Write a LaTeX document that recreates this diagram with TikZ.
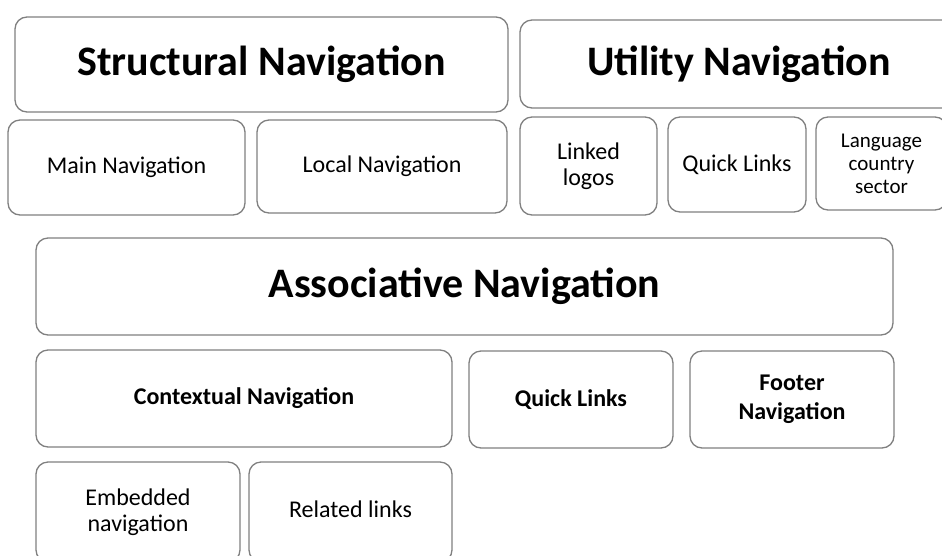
\documentclass[tikz,border=0pt]{standalone}
\usepackage{fontspec}
\setmainfont{Carlito}
\definecolor{edge}{RGB}{128,128,128}
\begin{document}
\begin{tikzpicture}[x=1pt,y=-1pt,
  box/.style={draw=edge, line width=1.3pt, rounded corners=12pt, fill=white,
    align=center, inner sep=0pt, text=black},
  big/.style={font=\fontsize{42}{46}\selectfont\bfseries},
  mid/.style={font=\fontsize{24}{26}\selectfont},
  midb/.style={font=\fontsize{24}{29}\selectfont\bfseries},
  small/.style={font=\fontsize{21}{23}\selectfont}]
\useasboundingbox (0,0) rectangle (942,555);
\clip (0,0) rectangle (942,555);
% Structural / Utility
\node[box,big, minimum width=493pt, minimum height=95pt] (sn) at (261.5,64.5) {Structural Navigation};
\node[box,big, minimum width=438pt, minimum height=88pt] (un) at (739,64) {Utility Navigation};
\node[box,mid, minimum width=237pt, minimum height=95pt] (mn) at (126.5,167.5) {Main Navigation};
\node[box,mid, minimum width=250pt, minimum height=93pt] (ln) at (382,166.5) {Local Navigation};
\node[box,mid, minimum width=137pt, minimum height=98pt] (ll) at (588.5,166) {Linked\\logos};
\node[box,mid, minimum width=138pt, minimum height=95pt] (ql1) at (737,164.5) {Quick Links};
\node[box,small, minimum width=131pt, minimum height=93pt] (lcs) at (881.5,163.5) {Language\\country\\sector};
% Associative
\node[box,big, minimum width=857pt, minimum height=97pt] (an) at (464.5,286.5) {Associative Navigation};
\node[box,midb, minimum width=416pt, minimum height=97pt] (cn) at (244,398.5) {Contextual Navigation};
\node[box,midb, minimum width=204pt, minimum height=97pt] (ql2) at (571,399.5) {Quick Links};
\node[box,midb, minimum width=204pt, minimum height=97pt] (fn) at (792,399.5) {Footer\\Navigation};
\node[box,mid, minimum width=204pt, minimum height=100pt] (en) at (138,512) {Embedded\\navigation};
\node[box,mid, minimum width=203pt, minimum height=100pt, text depth=0pt] (rl) at (350.5,512) {\raisebox{6pt}{Related links}};
\end{tikzpicture}
\end{document}
